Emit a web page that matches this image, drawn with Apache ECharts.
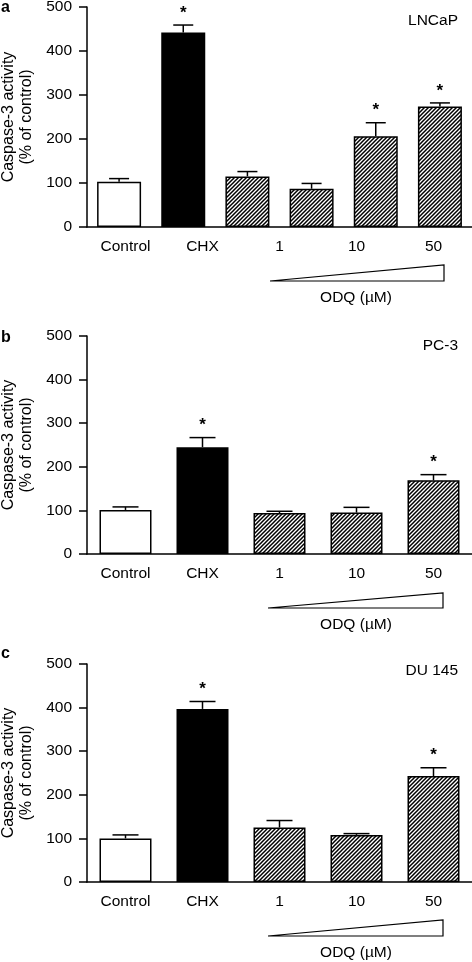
<!DOCTYPE html>
<html><head><meta charset="utf-8">
<script src="https://cdn.jsdelivr.net/npm/echarts@6/dist/echarts.min.js"></script>
<style>html,body{margin:0;padding:0;background:#fff}#c{width:472px;height:962px}</style>
</head><body><div id="c"></div>
<script>
// ---- data ----
const tickLabels = ['Control', 'CHX', '1', '10', '50'];
const yTicks = [0, 100, 200, 300, 400, 500];
const panelLetters = ['a', 'b', 'c'];
const cellLines = ['LNCaP', 'PC-3', 'DU 145'];

// panel a has six bars (four ODQ doses) under five tick labels
const barsA = ['Control', 'CHX', 'ODQ dose 1', 'ODQ dose 2', 'ODQ dose 3', 'ODQ dose 4'];
const meanA = [103, 442, 115, 87, 206, 274];
const semA  = [7, 17, 11, 12, 31, 8];
const sigA  = [0, 1, 0, 0, 1, 1];

const barsB = ['Control', 'CHX', '1', '10', '50'];
const meanB = [101, 245, 94, 95, 169];
const semB  = [7, 22, 4, 12, 13];
const sigB  = [0, 1, 0, 0, 1];

const barsC = ['Control', 'CHX', '1', '10', '50'];
const meanC = [100, 397, 125, 108, 243];
const semC  = [8, 17, 16, 3, 19];
const sigC  = [0, 1, 0, 0, 1];

// ---- styling / layout ----
const FONT = '"Liberation Sans", Arial, sans-serif';
function hatchCanvas() {
  const c = document.createElement('canvas');
  c.width = 4; c.height = 4;
  const g = c.getContext('2d');
  g.fillStyle = '#fff'; g.fillRect(0, 0, 4, 4);
  g.strokeStyle = '#000'; g.lineWidth = 1.5;
  g.beginPath();
  g.moveTo(-1, 5); g.lineTo(5, -1);
  g.moveTo(-1, 1); g.lineTo(1, -1);
  g.moveTo(3, 5); g.lineTo(5, 3);
  g.stroke();
  return c;
}
const hatch = { image: hatchCanvas(), repeat: 'repeat' };

const panels = [
  { cats: barsA, mean: meanA, sem: semA, sig: sigA, top: 7, height: 220, barW: 44, cap: 20 },
  { cats: barsB, mean: meanB, sem: semB, sig: sigB, top: 336, height: 218, barW: 52, cap: 26 },
  { cats: barsC, mean: meanC, sem: semC, sig: sigC, top: 664, height: 218, barW: 52, cap: 26 }
];

const grid = [], xAxis = [], yAxis = [], series = [];
panels.forEach((p, i) => {
  grid.push({ left: 87, right: 0, top: p.top, height: p.height, containLabel: false, outerBoundsMode: 'none' });
  xAxis.push({
    type: 'category', gridIndex: i, data: tickLabels,
    axisLine: { lineStyle: { color: '#000', width: 1.5 } },
    axisTick: { alignWithLabel: true, length: 6, lineStyle: { color: '#000', width: 1.5 } },
    axisLabel: { color: '#000', fontSize: 15.5, fontFamily: FONT, margin: 12 },
    splitLine: { show: false }
  });
  xAxis.push({ type: 'category', gridIndex: i, data: p.cats, show: false });
  yAxis.push({
    type: 'value', gridIndex: i, min: yTicks[0], max: yTicks[yTicks.length - 1],
    interval: yTicks[1] - yTicks[0],
    name: 'Caspase-3 activity\n(% of control)', nameLocation: 'middle', nameGap: 47,
    nameTextStyle: { color: '#000', fontSize: 16, fontFamily: FONT, lineHeight: 18 },
    axisLine: { show: true, lineStyle: { color: '#000', width: 1.5 } },
    axisTick: { show: true, length: 8, lineStyle: { color: '#000', width: 1.5 } },
    axisLabel: { color: '#000', fontSize: 15.5, fontFamily: FONT, margin: 15 },
    splitLine: { show: false }
  });
  series.push({
    type: 'bar', xAxisIndex: 2 * i + 1, yAxisIndex: i, barWidth: p.barW,
    data: p.mean.map((v, k) => ({
      value: v,
      itemStyle: { color: k === 0 ? '#fff' : (k === 1 ? '#000' : hatch), borderColor: '#000', borderWidth: 1.5 }
    })),
    animation: false, silent: true
  });
  series.push({
    type: 'custom', xAxisIndex: 2 * i + 1, yAxisIndex: i, animation: false, silent: true, z: 1,
    data: p.mean.map((v, k) => [k, v, v + p.sem[k], p.sig[k]]),
    renderItem: (params, api) => {
      const k = api.value(0);
      const a = api.coord([k, api.value(1)]);
      const b = api.coord([k, api.value(2)]);
      const h = p.cap / 2;
      const st = { stroke: '#000', lineWidth: 1.5 };
      const ch = [
        { type: 'line', shape: { x1: a[0], y1: a[1], x2: b[0], y2: b[1] }, style: st },
        { type: 'line', shape: { x1: b[0] - h, y1: b[1], x2: b[0] + h, y2: b[1] }, style: st }
      ];
      if (api.value(3)) {
        ch.push({ type: 'text', x: b[0], y: b[1] - 12,
          style: { text: '*', fill: '#000', font: 'bold 17px ' + FONT, align: 'center', verticalAlign: 'middle' } });
      }
      return { type: 'group', children: ch };
    }
  });
});

const tri = [
  [[270, 281], [444, 281], [444, 265]],
  [[268, 608], [443, 608], [443, 593]],
  [[268, 936], [443, 936], [443, 920]]
];
const odqY = [298, 625, 953];
const letterY = [7.5, 337.5, 653.5];
const cellY = [20.6, 345.5, 671];
const graphic = [];
for (let i = 0; i < 3; i++) {
  graphic.push({ type: 'polygon', shape: { points: tri[i] }, style: { fill: '#fff', stroke: '#000', lineWidth: 1.2 } });
  graphic.push({ type: 'text', x: 356, y: odqY[i], style: { text: 'ODQ (µM)', fill: '#000', font: '15.5px ' + FONT, align: 'center', verticalAlign: 'middle' } });
  graphic.push({ type: 'text', x: 1, y: letterY[i], style: { text: panelLetters[i], fill: '#000', font: 'bold 16px ' + FONT, align: 'left', verticalAlign: 'middle' } });
  graphic.push({ type: 'text', x: 458, y: cellY[i], style: { text: cellLines[i], fill: '#000', font: '15.5px ' + FONT, align: 'right', verticalAlign: 'middle' } });
}

const chart = echarts.init(document.getElementById('c'), null, { renderer: 'canvas' });
chart.setOption({ animation: false, grid, xAxis, yAxis, series, graphic });
</script>
</body></html>
